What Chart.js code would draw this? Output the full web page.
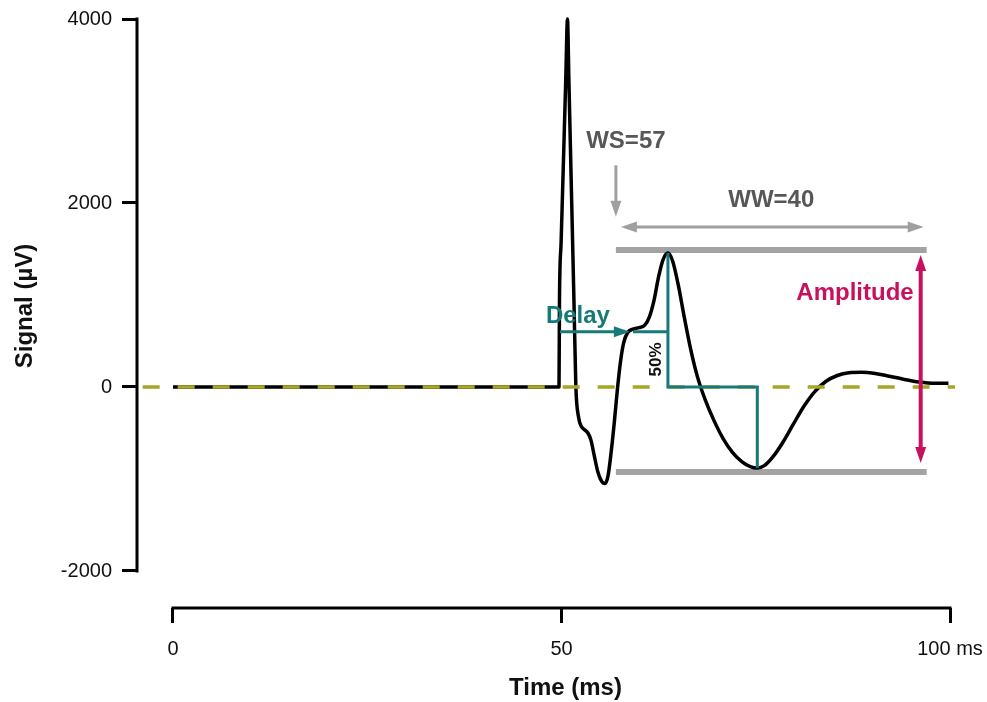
<!DOCTYPE html>
<html>
<head>
<meta charset="utf-8">
<script src="https://cdn.jsdelivr.net/npm/chart.js@4.4.1/dist/chart.umd.min.js"></script>
<style>
  html, body { margin: 0; padding: 0; background: #ffffff; }
  canvas { display: block; }
</style>
</head>
<body>
<canvas id="chart" width="987" height="702"></canvas>
<script>
// Evoked response trace: time (ms) and signal (µV)
const timeMs = [
  0, 10, 20, 30, 40, 49.68, 49.74, 49.95, 50.15, 50.35, 50.55, 50.77, 50.95, 51.15,
  51.35, 51.6, 51.85, 52.2, 52.5, 52.9, 53.4, 53.8, 54.2, 54.7, 55.2, 55.6, 56.0,
  56.4, 56.8, 57.2, 57.6, 58.0, 58.5, 59.2, 60.0, 60.7, 61.3, 61.9, 62.5, 63.1,
  63.7, 64.3, 65.0, 65.8, 66.6, 67.5, 68.5, 69.6, 70.8, 72.0, 73.2, 74.3, 75.2,
  76.1, 77.2, 78.5, 79.8, 81.2, 82.6, 84.0, 85.5, 87.0, 88.6, 90.2, 92.0, 94.0,
  96.0, 98.0, 99.8
];
const signalUv = [
  0, 0, 0, 0, 0, 0, 946, 1570, 2160, 2750, 3350, 4000, 3340, 2600,
  1870, 946, 0, -330, -420, -460, -500, -580, -740, -930, -1030, -1050, -960,
  -700, -380, -20, 280, 480, 590, 630, 645, 670, 760, 940, 1200, 1390,
  1456, 1370, 1120, 760, 420, 110, -140, -360, -560, -710, -810, -865, -880,
  -855, -760, -600, -410, -210, -50, 60, 125, 155, 160, 150, 120, 85,
  55, 40, 42
];

// Axis ticks
const xTickValues = [0, 50, 100];
const xTickLabels = ['0', '50', '100 ms'];
const yTickValues = [-2000, 0, 2000, 4000];

// Analysis window: start and width (ms)
const analysisWindow = [57, 40];
// Reference bars at the positive and negative extremes (µV)
const amplitudeBars = [1490, -925];
// WS marker arrow: from / to (µV); WW arrow level (µV)
const wsArrowUv = [2410, 1850];
const wwArrowUv = [1740];
// Delay arrow: start / tip (ms) and its level (µV)
const delayArrowMs = [49.8, 58.8];
const delayLevelUv = [600];
// Zero reference line extent (ms)
const baselineMs = [-3.9, 100.65];

const COLORS = {
  trace: '#000000',
  baseline: '#a6a628',
  bar: '#a3a3a3',
  greyArrow: '#a0a0a0',
  greyText: '#575757',
  teal: '#177a78',
  magenta: '#c8115d'
};

const winStart = analysisWindow[0];
const winEnd = analysisWindow[0] + analysisWindow[1];

// Extremes of the trace inside the analysis window
let peakIdx = -1, troughIdx = -1;
timeMs.forEach((t, i) => {
  if (t < winStart || t > winEnd) return;
  if (peakIdx < 0 || signalUv[i] > signalUv[peakIdx]) peakIdx = i;
  if (troughIdx < 0 || signalUv[i] < signalUv[troughIdx]) troughIdx = i;
});
const peakT = timeMs[peakIdx], peakV = signalUv[peakIdx];
const troughT = timeMs[troughIdx], troughV = signalUv[troughIdx];

const traceData = timeMs.map((t, i) => ({ x: t, y: signalUv[i] }));
const baselineData = baselineMs.map(t => ({ x: t, y: 0 }));
const topBar = [{ x: winStart, y: amplitudeBars[0] }, { x: winEnd, y: amplitudeBars[0] }];
const bottomBar = [{ x: winStart, y: amplitudeBars[1] }, { x: winEnd, y: amplitudeBars[1] }];
const latencyPath = [
  { x: delayArrowMs[1] + 0.4, y: delayLevelUv[0] },
  { x: peakT, y: delayLevelUv[0] },
  { x: peakT, y: peakV },
  { x: peakT, y: 0 },
  { x: troughT, y: 0 },
  { x: troughT, y: troughV }
];

function arrowHead(ctx, x, y, ang, len, half) {
  const c = Math.cos(ang), s = Math.sin(ang);
  ctx.beginPath();
  ctx.moveTo(x, y);
  ctx.lineTo(x - len * c + half * s, y - len * s - half * c);
  ctx.lineTo(x - len * c - half * s, y - len * s + half * c);
  ctx.closePath();
  ctx.fill();
}

function arrow(ctx, x1, y1, x2, y2, color, width, both) {
  const len = 16, half = 5.5;
  const ang = Math.atan2(y2 - y1, x2 - x1);
  const c = Math.cos(ang), s = Math.sin(ang);
  ctx.strokeStyle = color;
  ctx.fillStyle = color;
  ctx.lineWidth = width;
  ctx.lineCap = 'butt';
  ctx.beginPath();
  const sx = both ? x1 + c * len * 0.8 : x1;
  const sy = both ? y1 + s * len * 0.8 : y1;
  ctx.moveTo(sx, sy);
  ctx.lineTo(x2 - c * len * 0.8, y2 - s * len * 0.8);
  ctx.stroke();
  arrowHead(ctx, x2, y2, ang, len, half);
  if (both) arrowHead(ctx, x1, y1, ang + Math.PI, len, half);
}

function label(ctx, text, x, y, font, color, align, rot) {
  ctx.save();
  ctx.translate(x, y);
  if (rot) ctx.rotate(rot);
  ctx.font = font;
  ctx.fillStyle = color;
  ctx.textAlign = align || 'center';
  ctx.textBaseline = 'middle';
  ctx.fillText(text, 0, 0);
  ctx.restore();
}

const annotations = {
  id: 'annotations',
  afterDatasetsDraw(chart) {
    const { ctx, chartArea } = chart;
    const xs = chart.scales.x, ys = chart.scales.y;
    const X = v => xs.getPixelForValue(v);
    const Y = v => ys.getPixelForValue(v);
    const bold = s => 'bold ' + s + 'px "Liberation Sans", Arial, sans-serif';
    ctx.save();

    // Detached axis spines
    ctx.strokeStyle = '#000';
    ctx.lineWidth = 3;
    ctx.lineCap = 'butt';
    ctx.beginPath();
    ctx.moveTo(chartArea.left, Y(yTickValues[yTickValues.length - 1]) - 1.5);
    ctx.lineTo(chartArea.left, Y(yTickValues[0]) + 1.5);
    ctx.stroke();
    ctx.beginPath();
    ctx.moveTo(X(xTickValues[0]) - 1.5, chartArea.bottom);
    ctx.lineTo(X(xTickValues[xTickValues.length - 1]) + 1.5, chartArea.bottom);
    ctx.stroke();

    // Window start marker
    const wsX = X(winStart);
    arrow(ctx, wsX, Y(wsArrowUv[0]), wsX, Y(wsArrowUv[1]), COLORS.greyArrow, 3, false);
    label(ctx, 'WS=' + analysisWindow[0], wsX + 10, Y(wsArrowUv[0]) - 24, bold(24), COLORS.greyText);

    // Window width marker
    const wwY = Y(wwArrowUv[0]);
    arrow(ctx, X(winStart) + 5, wwY, X(winEnd) - 3, wwY, COLORS.greyArrow, 3, true);
    label(ctx, 'WW=' + analysisWindow[1], (X(winStart) + X(winEnd)) / 2, wwY - 27, bold(24), COLORS.greyText);

    // Peak-to-peak amplitude
    const ampX = X(winEnd) - 6;
    arrow(ctx, ampX, Y(amplitudeBars[0]) + 5, ampX, Y(amplitudeBars[1]) - 9, COLORS.magenta, 4, true);
    label(ctx, 'Amplitude', ampX - 7, Y(1020), bold(24), COLORS.magenta, 'right');

    // Delay arrow
    const dY = Y(delayLevelUv[0]);
    arrow(ctx, X(delayArrowMs[0]), dY, X(delayArrowMs[1]), dY, COLORS.teal, 3, false);
    label(ctx, 'Delay', X(delayArrowMs[0]) + 18, dY - 15, bold(24), COLORS.teal);

    // 50% marker
    label(ctx, '50%', X(peakT) - 12, Y(delayLevelUv[0] / 2), bold(17), '#111', 'center', -Math.PI / 2);

    // Axis titles
    label(ctx, 'Time (ms)', (X(xTickValues[0]) + X(xTickValues[xTickValues.length - 1])) / 2 + 4, 688, bold(24), '#111');
    label(ctx, 'Signal (µV)', 25, 306, bold(24), '#111', 'center', -Math.PI / 2);

    ctx.restore();
  }
};

Chart.defaults.font.family = '"Liberation Sans", Arial, sans-serif';

new Chart(document.getElementById('chart'), {
  type: 'line',
  data: {
    datasets: [
      {
        data: latencyPath, borderColor: COLORS.teal, borderWidth: 3,
        pointRadius: 0, tension: 0, clip: false, order: 0
      },
      {
        data: baselineData, borderColor: COLORS.baseline, borderWidth: 3.5,
        borderDash: [17, 18], pointRadius: 0, clip: false, order: 1
      },
      {
        data: traceData, borderColor: COLORS.trace, borderWidth: 3.5,
        cubicInterpolationMode: 'monotone', pointRadius: 0, clip: false,
        borderJoinStyle: 'round', order: 2
      },
      {
        data: topBar, borderColor: COLORS.bar, borderWidth: 6,
        pointRadius: 0, clip: false, order: 3
      },
      {
        data: bottomBar, borderColor: COLORS.bar, borderWidth: 6,
        pointRadius: 0, clip: false, order: 3
      }
    ]
  },
  options: {
    responsive: false,
    animation: false,
    devicePixelRatio: 1,
    layout: { padding: { top: 19, right: 37, bottom: 0, left: 0 } },
    plugins: { legend: { display: false }, tooltip: { enabled: false } },
    scales: {
      x: {
        type: 'linear',
        min: -4.633,
        max: 100,
        afterFit(scale) {
          scale.height = 94;
          scale.paddingLeft = 0;
          scale.paddingRight = 0;
        },
        afterBuildTicks(scale) { scale.ticks = xTickValues.map(v => ({ value: v })); },
        grid: { drawOnChartArea: false, drawTicks: true, tickLength: 15, lineWidth: 3, color: '#000' },
        border: { display: false },
        ticks: {
          color: '#111',
          font: { size: 20 },
          padding: 14,
          maxRotation: 0,
          autoSkip: false,
          callback: (v, i) => xTickLabels[i]
        }
      },
      y: {
        type: 'linear',
        min: -2402.2,
        max: 4000,
        afterFit(scale) {
          scale.width = 137;
          scale.paddingTop = 0;
          scale.paddingBottom = 0;
        },
        afterBuildTicks(scale) { scale.ticks = yTickValues.map(v => ({ value: v })); },
        grid: { drawOnChartArea: false, drawTicks: true, tickLength: 15, lineWidth: 3, color: '#000' },
        border: { display: false },
        ticks: {
          color: '#111',
          font: { size: 20 },
          padding: 10,
          autoSkip: false,
          callback: v => String(v)
        }
      }
    }
  },
  plugins: [annotations]
});
</script>
</body>
</html>
